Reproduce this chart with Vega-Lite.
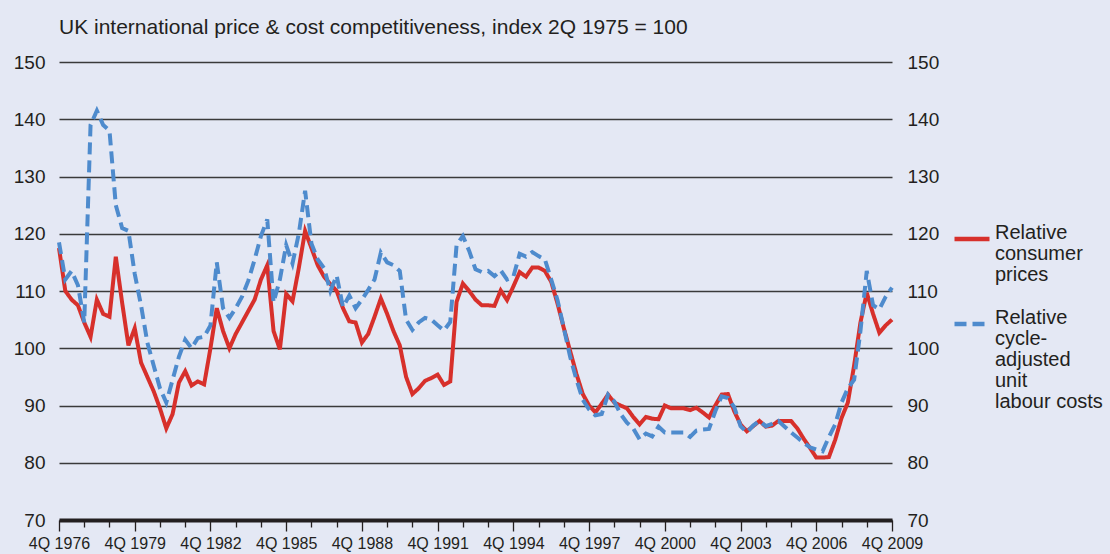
{
  "$schema": "https://vega.github.io/schema/vega-lite/v6.json",
  "width": 833,
  "height": 458,
  "autosize": {"type": "none"},
  "padding": {"left": 59, "top": 62, "right": 218, "bottom": 34},
  "background": "#e4e8f4",
  "title": {"text": "UK international price & cost competitiveness, index 2Q 1975 = 100", "anchor": "start", "frame": "group", "fontSize": 21, "fontWeight": "normal", "font": "Liberation Sans", "color": "#231f20", "offset": 15},
  "config": {
    "view": {"stroke": null},
    "font": "Liberation Sans",
    "axis": {"labelFont": "Liberation Sans", "labelColor": "#231f20"},
    "legend": {"labelFont": "Liberation Sans", "labelColor": "#231f20"},
    "style": {"guide-label": {"lineHeight": 21}}
  },
  "data": {"values": [
    {"q":"1976Q4","cpi":117.5,"ulc":118.5},{"q":"1977Q1","cpi":110,"ulc":112},{"q":"1977Q2","cpi":108.5,"ulc":113.5},{"q":"1977Q3","cpi":107.5,"ulc":111},{"q":"1977Q4","cpi":104.5,"ulc":104.5},
    {"q":"1978Q1","cpi":102,"ulc":139},{"q":"1978Q2","cpi":108.5,"ulc":141.5},{"q":"1978Q3","cpi":106,"ulc":139},{"q":"1978Q4","cpi":105.5,"ulc":138},
    {"q":"1979Q1","cpi":116,"ulc":125},{"q":"1979Q2","cpi":108,"ulc":121},{"q":"1979Q3","cpi":100.5,"ulc":120.5},{"q":"1979Q4","cpi":103.5,"ulc":113},
    {"q":"1980Q1","cpi":97.5,"ulc":107.5},{"q":"1980Q2","cpi":95,"ulc":101},{"q":"1980Q3","cpi":92.5,"ulc":97},{"q":"1980Q4","cpi":89.5,"ulc":93},
    {"q":"1981Q1","cpi":86,"ulc":90.5},{"q":"1981Q2","cpi":88.5,"ulc":94.5},{"q":"1981Q3","cpi":94,"ulc":98.5},{"q":"1981Q4","cpi":96,"ulc":101.5},
    {"q":"1982Q1","cpi":93.5,"ulc":100},{"q":"1982Q2","cpi":94.2,"ulc":101.8},{"q":"1982Q3","cpi":93.7,"ulc":102},{"q":"1982Q4","cpi":100,"ulc":104},
    {"q":"1983Q1","cpi":107,"ulc":115},{"q":"1983Q2","cpi":103,"ulc":107},{"q":"1983Q3","cpi":100,"ulc":105.3},{"q":"1983Q4","cpi":102.5,"ulc":107},
    {"q":"1984Q1","cpi":104.5,"ulc":109},{"q":"1984Q2","cpi":106.5,"ulc":111.8},{"q":"1984Q3","cpi":108.5,"ulc":115.5},{"q":"1984Q4","cpi":112,"ulc":119.6},
    {"q":"1985Q1","cpi":114.5,"ulc":122.5},{"q":"1985Q2","cpi":103,"ulc":108},{"q":"1985Q3","cpi":99.8,"ulc":112},{"q":"1985Q4","cpi":109.5,"ulc":118},
    {"q":"1986Q1","cpi":108.2,"ulc":114.8},{"q":"1986Q2","cpi":114,"ulc":120},{"q":"1986Q3","cpi":120.5,"ulc":127.5},{"q":"1986Q4","cpi":117.5,"ulc":118.3},
    {"q":"1987Q1","cpi":114.5,"ulc":115.5},{"q":"1987Q2","cpi":112.5,"ulc":114},{"q":"1987Q3","cpi":111.2,"ulc":110},{"q":"1987Q4","cpi":110,"ulc":112.7},
    {"q":"1988Q1","cpi":107,"ulc":107.2},{"q":"1988Q2","cpi":104.7,"ulc":109.2},{"q":"1988Q3","cpi":104.5,"ulc":107},{"q":"1988Q4","cpi":101,"ulc":108.5},
    {"q":"1989Q1","cpi":102.5,"ulc":110.2},{"q":"1989Q2","cpi":105.5,"ulc":112},{"q":"1989Q3","cpi":108.7,"ulc":116.7},{"q":"1989Q4","cpi":106,"ulc":115},
    {"q":"1990Q1","cpi":103,"ulc":114.5},{"q":"1990Q2","cpi":100.5,"ulc":113.5},{"q":"1990Q3","cpi":95,"ulc":105},{"q":"1990Q4","cpi":92,"ulc":103.2},
    {"q":"1991Q1","cpi":93,"ulc":104.5},{"q":"1991Q2","cpi":94.3,"ulc":105.3},{"q":"1991Q3","cpi":94.8,"ulc":105},{"q":"1991Q4","cpi":95.4,"ulc":104},
    {"q":"1992Q1","cpi":93.6,"ulc":103.1},{"q":"1992Q2","cpi":94.2,"ulc":104.6},{"q":"1992Q3","cpi":108.1,"ulc":118},{"q":"1992Q4","cpi":111.3,"ulc":119.6},
    {"q":"1993Q1","cpi":110,"ulc":117},{"q":"1993Q2","cpi":108.5,"ulc":113.8},{"q":"1993Q3","cpi":107.5,"ulc":113.3},{"q":"1993Q4","cpi":107.5,"ulc":113.5},
    {"q":"1994Q1","cpi":107.4,"ulc":112.6},{"q":"1994Q2","cpi":110.1,"ulc":113.6},{"q":"1994Q3","cpi":108.4,"ulc":112},{"q":"1994Q4","cpi":110.8,"ulc":112.5},
    {"q":"1995Q1","cpi":113.3,"ulc":116.5},{"q":"1995Q2","cpi":112.5,"ulc":116},{"q":"1995Q3","cpi":114.1,"ulc":116.8},{"q":"1995Q4","cpi":114.1,"ulc":116.1},
    {"q":"1996Q1","cpi":113.5,"ulc":115.5},{"q":"1996Q2","cpi":111.6,"ulc":112},{"q":"1996Q3","cpi":107.8,"ulc":108.4},{"q":"1996Q4","cpi":103.5,"ulc":103.5},
    {"q":"1997Q1","cpi":99.5,"ulc":98.5},{"q":"1997Q2","cpi":95.5,"ulc":94.5},{"q":"1997Q3","cpi":92,"ulc":91},{"q":"1997Q4","cpi":90,"ulc":89.3},
    {"q":"1998Q1","cpi":88.8,"ulc":88.3},{"q":"1998Q2","cpi":90.3,"ulc":88.5},{"q":"1998Q3","cpi":91.9,"ulc":91.9},{"q":"1998Q4","cpi":90.5,"ulc":90.7},
    {"q":"1999Q1","cpi":90,"ulc":88.5},{"q":"1999Q2","cpi":89.5,"ulc":87},{"q":"1999Q3","cpi":88,"ulc":86},{"q":"1999Q4","cpi":86.7,"ulc":84.1},
    {"q":"2000Q1","cpi":88,"ulc":85.1},{"q":"2000Q2","cpi":87.7,"ulc":84.6},{"q":"2000Q3","cpi":87.6,"ulc":86.3},{"q":"2000Q4","cpi":90,"ulc":85.3},
    {"q":"2001Q1","cpi":89.5,"ulc":85.3},{"q":"2001Q2","cpi":89.5,"ulc":85.3},{"q":"2001Q3","cpi":89.5,"ulc":85.3},{"q":"2001Q4","cpi":89.2,"ulc":84.5},
    {"q":"2002Q1","cpi":89.6,"ulc":85.6},{"q":"2002Q2","cpi":88.8,"ulc":85.8},{"q":"2002Q3","cpi":87.9,"ulc":85.9},{"q":"2002Q4","cpi":90,"ulc":89},
    {"q":"2003Q1","cpi":91.9,"ulc":91.6},{"q":"2003Q2","cpi":92,"ulc":91.3},{"q":"2003Q3","cpi":89,"ulc":89.7},{"q":"2003Q4","cpi":86.7,"ulc":86.4},
    {"q":"2004Q1","cpi":85.5,"ulc":85.3},{"q":"2004Q2","cpi":86.4,"ulc":86.5},{"q":"2004Q3","cpi":87.3,"ulc":87.3},{"q":"2004Q4","cpi":86.3,"ulc":86.4},
    {"q":"2005Q1","cpi":86.5,"ulc":86.8},{"q":"2005Q2","cpi":87.3,"ulc":87.3},{"q":"2005Q3","cpi":87.3,"ulc":86.3},{"q":"2005Q4","cpi":87.3,"ulc":85.3},
    {"q":"2006Q1","cpi":86,"ulc":84.4},{"q":"2006Q2","cpi":84.2,"ulc":83.5},{"q":"2006Q3","cpi":82.6,"ulc":82.7},{"q":"2006Q4","cpi":80.9,"ulc":82.3},
    {"q":"2007Q1","cpi":80.9,"ulc":82},{"q":"2007Q2","cpi":81,"ulc":84.5},{"q":"2007Q3","cpi":84,"ulc":86.7},{"q":"2007Q4","cpi":87.8,"ulc":90.5},
    {"q":"2008Q1","cpi":90.5,"ulc":93},{"q":"2008Q2","cpi":97,"ulc":94.5},{"q":"2008Q3","cpi":104.5,"ulc":103},{"q":"2008Q4","cpi":109.7,"ulc":113.5},
    {"q":"2009Q1","cpi":106,"ulc":107.5},{"q":"2009Q2","cpi":102.7,"ulc":106.8},{"q":"2009Q3","cpi":104,"ulc":109},{"q":"2009Q4","cpi":105,"ulc":110.6}
  ]},
  "transform": [{"fold": ["cpi", "ulc"], "as": ["series", "value"]}],
  "encoding": {
    "x": {
      "field": "q", "type": "ordinal", "sort": null, "title": null,
      "scale": {"type": "point", "padding": 0},
      "axis": {
        "values": ["1976Q4","1977Q4","1978Q4","1979Q4","1980Q4","1981Q4","1982Q4","1983Q4","1984Q4","1985Q4","1986Q4","1987Q4","1988Q4","1989Q4","1990Q4","1991Q4","1992Q4","1993Q4","1994Q4","1995Q4","1996Q4","1997Q4","1998Q4","1999Q4","2000Q4","2001Q4","2002Q4","2003Q4","2004Q4","2005Q4","2006Q4","2007Q4","2008Q4","2009Q4"],
        "labelExpr": "(toNumber(slice(datum.value,0,4)) - 1976) % 3 == 0 ? '4Q ' + slice(datum.value,0,4) : ''",
        "tickSize": {"condition": {"test": "(toNumber(slice(datum.value,0,4)) - 1976) % 3 == 0", "value": 11}, "value": 7},
        "labelAngle": 0, "labelOverlap": false, "labelFontSize": 16, "labelPadding": 4,
        "domainWidth": 4, "domainColor": "#231f20", "tickColor": "#231f20", "tickWidth": 1.3,
        "grid": false
      }
    },
    "y": {
      "field": "value", "type": "quantitative", "title": null,
      "scale": {"domain": [70, 150], "nice": false, "zero": false}
    },
    "color": {
      "field": "series", "type": "nominal",
      "scale": {"domain": ["cpi", "ulc"], "range": ["#d7302b", "#4e8bcd"]},
      "legend": {
        "title": null, "orient": "none", "legendX": 893, "legendY": 157, "padding": 0,
        "labelExpr": "datum.value == 'cpi' ? ['Relative', 'consumer', 'prices'] : ['Relative', 'cycle-', 'adjusted', 'unit', 'labour costs']",
        "labelFontSize": 20, "labelBaseline": "alphabetic", "labelLimit": 300, "labelOffset": 3,
        "symbolSize": 1225, "symbolStrokeWidth": 4.5, "rowPadding": 19
      }
    },
    "strokeDash": {
      "field": "series", "type": "nominal",
      "scale": {"domain": ["cpi", "ulc"], "range": [[1, 0], [12, 6]]},
      "legend": {
        "title": null, "orient": "none", "legendX": 893, "legendY": 157, "padding": 0,
        "labelExpr": "datum.value == 'cpi' ? ['Relative', 'consumer', 'prices'] : ['Relative', 'cycle-', 'adjusted', 'unit', 'labour costs']",
        "labelFontSize": 20, "labelBaseline": "alphabetic", "labelLimit": 300, "labelOffset": 3,
        "symbolSize": 1225, "symbolStrokeWidth": 4.5, "rowPadding": 19
      }
    }
  },
  "layer": [
    {
      "transform": [{"filter": "datum.series == 'cpi'"}],
      "mark": {"type": "line", "strokeWidth": 4},
      "encoding": {
        "y": {
          "field": "value", "type": "quantitative", "title": null,
          "scale": {"domain": [70, 150], "nice": false, "zero": false},
          "axis": {"orient": "left", "values": [70, 80, 90, 100, 110, 120, 130, 140, 150], "ticks": false, "domain": false, "grid": true, "gridColor": "#3a3a3a", "gridWidth": 1.5, "labelFontSize": 19, "labelPadding": 14}
        }
      }
    },
    {
      "transform": [{"filter": "datum.series == 'ulc'"}],
      "mark": {"type": "line", "strokeWidth": 4},
      "encoding": {
        "y": {
          "field": "value", "type": "quantitative", "title": null,
          "scale": {"domain": [70, 150], "nice": false, "zero": false},
          "axis": {"orient": "right", "values": [70, 80, 90, 100, 110, 120, 130, 140, 150], "ticks": false, "domain": false, "grid": false, "labelFontSize": 19, "labelPadding": 15}
        }
      }
    }
  ],
  "resolve": {"axis": {"y": "independent"}}
}
